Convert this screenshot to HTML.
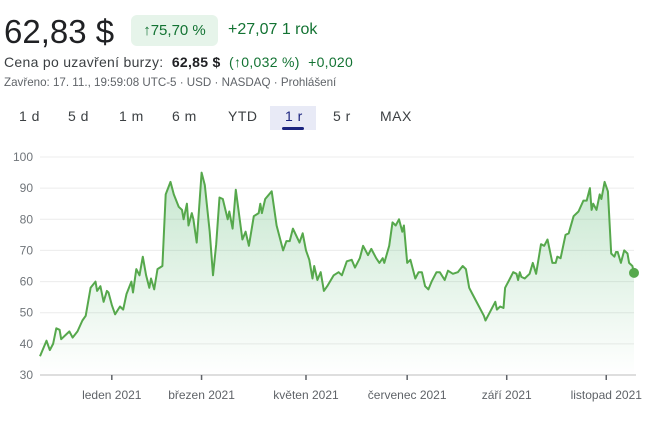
<!DOCTYPE html>
<html><head><meta charset="utf-8">
<style>
body{margin:0;width:650px;height:422px;background:#fff;font-family:"Liberation Sans",Arial,sans-serif;overflow:hidden;position:relative}
.a{position:absolute;white-space:nowrap}
.g{color:#137333}
.tab{position:absolute;top:108px;font-size:14px;color:#3c4043;letter-spacing:0.5px}
</style></head><body>
<div class="a" style="left:4px;top:13px;font-size:33px;color:#202124">62,83 $</div>
<div class="a g" style="left:131px;top:15px;width:87px;height:31px;background:#e6f4ea;border-radius:6px;font-size:15px;line-height:31px;text-align:center">↑75,70 %</div>
<div class="a g" style="left:228px;top:21px;font-size:16px">+27,07 1 rok</div>
<div class="a" style="left:4px;top:54px;font-size:14px;color:#3c4043;letter-spacing:0.3px">Cena po uzavření burzy:&nbsp; <b style="color:#202124">62,85 $</b>&nbsp; <span class="g">(↑0,032 %)&nbsp; +0,020</span></div>
<div class="a" style="left:4px;top:76px;font-size:11.6px;color:#5f6368">Zavřeno: 17. 11., 19:59:08 UTC-5 · USD · NASDAQ · Prohlášení</div>
<div class="tab" style="left:19px">1 d</div>
<div class="tab" style="left:68px">5 d</div>
<div class="tab" style="left:119px">1 m</div>
<div class="tab" style="left:172px">6 m</div>
<div class="tab" style="left:228px">YTD</div>
<div class="a" style="left:270px;top:106px;width:46px;height:24px;background:#e8eaf6"></div>
<div class="tab" style="left:285px;color:#1a237e">1 r</div>
<div class="a" style="left:282px;top:127px;width:22px;height:3px;border-radius:2px;background:#1a237e"></div>
<div class="tab" style="left:333px">5 r</div>
<div class="tab" style="left:380px">MAX</div>
<svg id="chart" width="650" height="422" style="position:absolute;left:0;top:0">
<defs><linearGradient id="fg" x1="0" y1="0" x2="0" y2="1"><stop offset="0" stop-color="#34a853" stop-opacity="0.28"/><stop offset="1" stop-color="#34a853" stop-opacity="0"/></linearGradient></defs>
</svg>
<script>
const days=[0,4,6,8,10,12,13,16,18,20,23,26,28,31,34,35,37,39,41,42,44,46,49,51,53,56,57,59,61,63,65,67,68,70,72,75,77,80,82,85,87,88,90,91,93,94,96,99,101,104,106,108,110,112,115,116,118,120,124,126,128,131,134,135,136,138,142,145,149,151,153,155,159,161,163,165,167,168,170,172,174,176,180,183,185,188,191,193,196,198,201,203,206,208,210,211,214,216,218,220,222,223,225,227,230,232,234,236,238,240,243,245,248,250,253,256,259,261,263,265,269,272,273,276,279,280,282,284,285,288,290,292,293,294,295,297,300,302,304,307,309,311,314,316,317,319,322,324,327,330,333,335,337,338,339,341,343,344,346,348,350,352,353,354,356,358,360,361,363,364];
const prices=[36,41,38,40,45,44.5,41.5,43,44,42,44,47.5,49,58,60,57,58.5,53.5,57,56.5,52.5,49.5,52,51,56,60,56.5,64,62,68,62,58,61,57.5,64,65,88,92,88,84,83,80,85,78,82,80,72.5,95,91,76,62,72,87,86.5,80,82.5,77,89.5,73.5,76,71.5,81,82,85,82,86.5,89,78,70,73,73,77,72.5,75.5,70,67,61,65,60.5,63,57,58.5,62,63,62,66.5,67,64.5,67.5,71.5,68.5,70.5,67.5,66,67.5,66,71.5,79,78,80,76,78,66,67,61,63,63,58.5,57.5,60,63,63,60.5,63.5,62.5,63,65,64,58,56,52,49,47.5,50.5,53.5,51,52,51.5,58,61,63,62.5,60.5,63,61.5,61,62.5,66,62.5,72,71.5,73.5,66,66,68,67.5,75,75.5,81,82.5,86,86,90,83,85,83,88,86.5,92,89,69,68,69.5,69.5,66,70,69,66,65,62.8];
const yTicks=[30,40,50,60,70,80,90,100];
const monthLabels=["leden 2021","březen 2021","květen 2021","červenec 2021","září 2021","listopad 2021"];
const monthDays=[44,99,163,225,286,347];
const NS="http://www.w3.org/2000/svg";
const svg=document.getElementById('chart');
const X0=40,X1=634,Y0=375,Y1=157,DMAX=364,VMIN=30,VMAX=100;
const xs=d=>X0+(d/DMAX)*(X1-X0);
const ys=v=>Y0-(v-VMIN)/(VMAX-VMIN)*(Y0-Y1);
function mk(t,a){const e=document.createElementNS(NS,t);for(const k in a)e.setAttribute(k,a[k]);svg.appendChild(e);return e;}
yTicks.forEach(v=>{
  if(v>VMIN){const l=mk('line',{x1:X0,x2:X1,y1:ys(v),y2:ys(v),stroke:'#ececec','stroke-width':1});
  
  }
  const t=mk('text',{x:33,y:ys(v)+4,'text-anchor':'end','font-size':12,fill:'#70757a'});
  t.textContent=v;
  
  
});
const ax=mk('line',{x1:X0,x2:X1+2,y1:Y0,y2:Y0,stroke:'#bdbdbd','stroke-width':1});


monthDays.forEach((d,i)=>{
  const tk=mk('line',{x1:xs(d),x2:xs(d),y1:Y0,y2:Y0+5,stroke:'#5f6368','stroke-width':1.5});
  
  
  const t=mk('text',{x:xs(d),y:399,'text-anchor':'middle','font-size':12,fill:'#5f6368'});
  t.textContent=monthLabels[i];
  
  
});
let pts=days.map((d,i)=>xs(d).toFixed(1)+','+ys(prices[i]).toFixed(1));
const area=mk('path',{d:'M'+xs(days[0])+','+Y0+' L'+pts.join(' L')+' L'+xs(days[days.length-1])+','+Y0+'Z',fill:'url(#fg)'});


const line=mk('path',{d:'M'+pts.join(' L'),fill:'none',stroke:'#56a84c','stroke-width':2,'stroke-linejoin':'round'});


const n=days.length-1;
const dot=mk('circle',{cx:xs(days[n]),cy:ys(prices[n]),r:5,fill:'#56a84c'});


</script>
</body></html>
